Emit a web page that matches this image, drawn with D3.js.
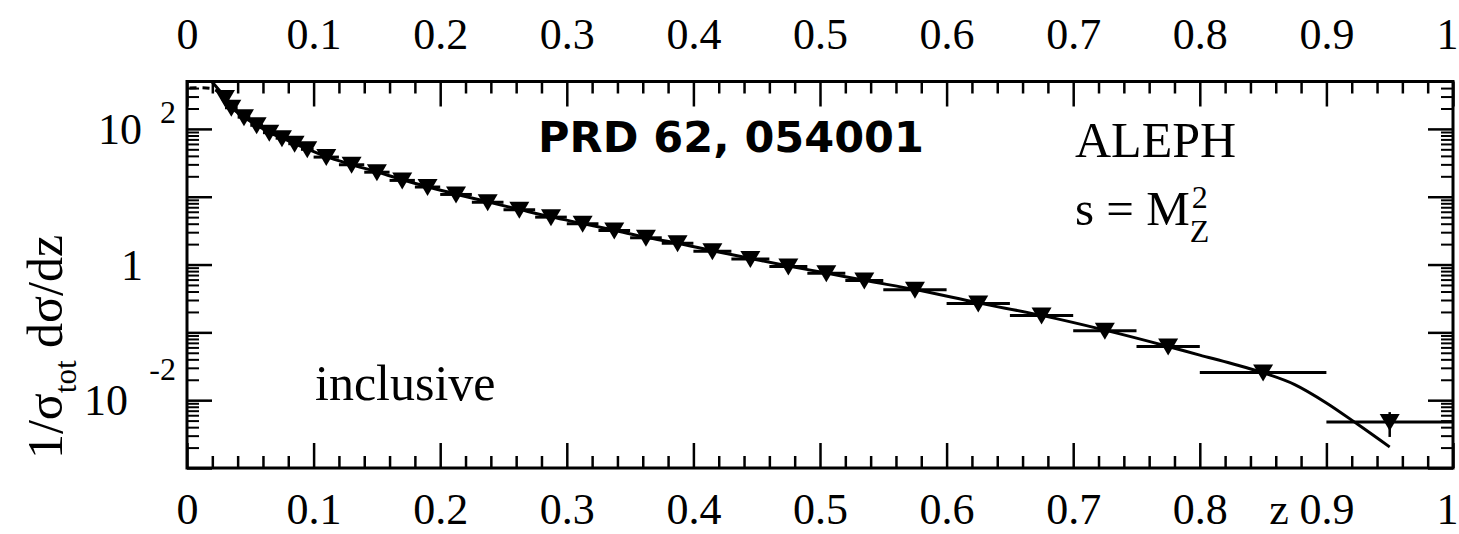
<!DOCTYPE html>
<html><head><meta charset="utf-8">
<script src="https://cdn.jsdelivr.net/npm/d3@7"></script>
<style>
html,body{margin:0;padding:0;background:#fff;}
svg{display:block;}
text{fill:#000;}
</style></head><body>
<svg id="chart" width="1459" height="534"></svg>
<script>
// ALEPH inclusive charged-hadron spectrum, s = MZ^2
const zCenters = [0.03, 0.035, 0.045, 0.055, 0.065, 0.075, 0.085, 0.095,
  0.11, 0.13, 0.15, 0.17, 0.19,
  0.2125, 0.2375, 0.2625, 0.2875, 0.3125, 0.3375, 0.3625, 0.3875,
  0.415, 0.445, 0.475, 0.505, 0.535,
  0.575, 0.625, 0.675, 0.725, 0.775, 0.85, 0.95];
const zHalfWidths = [0.0025, 0.005, 0.005, 0.005, 0.005, 0.005, 0.005, 0.005,
  0.01, 0.01, 0.01, 0.01, 0.01,
  0.0125, 0.0125, 0.0125, 0.0125, 0.0125, 0.0125, 0.0125, 0.0125,
  0.015, 0.015, 0.015, 0.015, 0.015,
  0.025, 0.025, 0.025, 0.025, 0.025, 0.05, 0.05];
const xsecValues = [285, 205, 149, 113, 88, 73, 60.5, 50,
  38.4, 29.6, 23.0, 17.4, 13.9,
  10.8, 8.3, 6.42, 5.0, 4.0, 3.18, 2.48, 2.06,
  1.57, 1.21, 0.935, 0.745, 0.58,
  0.424, 0.267, 0.177, 0.106, 0.062, 0.0256, 0.00477];
const xsecErrors = [6, 4, 3, 2.2, 1.7, 1.4, 1.1, 0.9,
  0.7, 0.5, 0.4, 0.3, 0.25,
  0.2, 0.15, 0.12, 0.09, 0.07, 0.06, 0.05, 0.04,
  0.03, 0.025, 0.02, 0.015, 0.012,
  0.008, 0.005, 0.004, 0.003, 0.002, 0.0012, 0.0019];

// NLO fit (solid)
const fitZ = [0.0195, 0.03, 0.035, 0.045, 0.055, 0.065, 0.075, 0.085, 0.095,
  0.11, 0.13, 0.15, 0.17, 0.19, 0.2125, 0.2375, 0.2625, 0.2875, 0.3125,
  0.3375, 0.3625, 0.3875, 0.415, 0.445, 0.475, 0.505, 0.535, 0.575, 0.625,
  0.675, 0.725, 0.775, 0.80, 0.825, 0.85, 0.875, 0.90, 0.925, 0.95];
const fitValues = [500, 290, 212, 150, 114, 89, 73.5, 60.5, 50.5,
  39, 29.8, 23.2, 17.8, 14.0, 10.9, 8.4, 6.5, 5.05, 4.02,
  3.2, 2.52, 2.06, 1.6, 1.23, 0.95, 0.75, 0.585, 0.428, 0.272,
  0.178, 0.108, 0.062, 0.0462, 0.0347, 0.0254, 0.0170, 0.00912, 0.00437, 0.00204];

// alternative fit at small z (dashed)
const altZ = [0.002, 0.01, 0.018, 0.024, 0.03, 0.04, 0.05];
const altValues = [400, 405, 398, 360, 292, 180, 130];

const xMajorTicks = [0, 0.1, 0.2, 0.3, 0.4, 0.5, 0.6, 0.7, 0.8, 0.9, 1];
const xTickLabels = ["0", "0.1", "0.2", "0.3", "0.4", "0.5", "0.6", "0.7", "0.8", "0.9", "1"];
const yLabelTicks = [100, 1, 0.01];
const yLabelBases = ["10", "1", "10"];
const yLabelExponents = ["2", "", "-2"];

const svg = d3.select("#chart");
const L = 187, R = 1453, T = 81.5, B = 468;
const x = d3.scaleLinear().domain([0, 1]).range([L, R]);
const y = d3.scaleLog().domain([1e-3, 500]).range([B, T]);

const serif = "'Liberation Serif','Times New Roman',Times,serif";

// tick sets
const xMinorTicks = d3.range(0, 1.0001, 0.02).filter(v => Math.abs(v * 10 - Math.round(v * 10)) > 1e-6);
const yMajorTicks = [1e-3, 1e-2, 1e-1, 1, 10, 100];
const yMinorMult = [2, 3, 4, 5, 6, 7, 8, 9];
const yMinorTicks = [];
yMajorTicks.forEach(d => yMinorMult.forEach(m => { const v = d * m; if (v <= 500) yMinorTicks.push(v); }));

function styleAxis(w) {
  return g => {
    g.select(".domain").remove();
    g.selectAll(".tick line").attr("stroke", "#000").attr("stroke-width", w);
  };
}

// the last label sits at the page edge, so it is pulled in slightly
function styleLabels(sel, yPos) {
  sel.selectAll(".tick text").attr("y", yPos).attr("dy", null)
    .attr("dx", d => d === 1 ? -6 : 0)
    .style("font-family", serif).style("font-size", "44px").attr("fill", "#000");
}

// bottom ticks (inward) + labels
svg.append("g").attr("transform", `translate(0,${B})`)
  .call(d3.axisBottom(x).tickValues(xMinorTicks).tickSize(-12).tickFormat(""))
  .call(styleAxis(2.5));
const bottomAx = svg.append("g").attr("transform", `translate(0,${B})`)
  .call(d3.axisBottom(x).tickValues(xMajorTicks).tickSize(-25)
    .tickFormat((d, i) => xTickLabels[i]))
  .call(styleAxis(2.5));
styleLabels(bottomAx, 56);

// top ticks (inward) + labels
svg.append("g").attr("transform", `translate(0,${T})`)
  .call(d3.axisTop(x).tickValues(xMinorTicks).tickSize(-12).tickFormat(""))
  .call(styleAxis(2.5));
const topAx = svg.append("g").attr("transform", `translate(0,${T})`)
  .call(d3.axisTop(x).tickValues(xMajorTicks).tickSize(-25)
    .tickFormat((d, i) => xTickLabels[i]))
  .call(styleAxis(2.5));
styleLabels(topAx, -33);

// left / right ticks (inward)
[[d3.axisLeft, L], [d3.axisRight, R]].forEach(([ax, pos]) => {
  svg.append("g").attr("transform", `translate(${pos},0)`)
    .call(ax(y).tickValues(yMinorTicks).tickSize(-12).tickFormat(""))
    .call(styleAxis(2));
  svg.append("g").attr("transform", `translate(${pos},0)`)
    .call(ax(y).tickValues(yMajorTicks).tickSize(-25).tickFormat(""))
    .call(styleAxis(2.5));
});

// frame
svg.append("rect").attr("x", L).attr("y", T).attr("width", R - L).attr("height", B - T)
  .attr("fill", "none").attr("stroke", "#000").attr("stroke-width", 3);

// y tick labels: 10^2, 1, 10^-2
yLabelTicks.forEach((v, i) => {
  const yy = y(v);
  const exp = yLabelExponents[i];
  const base = yLabelBases[i];
  const baseEnd = exp === "" ? 143 : (exp.length > 1 ? 128 : 142);
  svg.append("text").attr("x", baseEnd).attr("y", yy + 15)
    .attr("text-anchor", "end").style("font-family", serif).style("font-size", "44px")
    .text(base);
  if (exp) {
    svg.append("text").attr("x", 176).attr("y", yy + (exp.length > 1 ? -20 : -6))
      .attr("text-anchor", "end").style("font-family", serif).style("font-size", "32px")
      .text(exp);
  }
});

// axis titles
svg.append("text").attr("x", 1279).attr("y", 524).attr("text-anchor", "middle")
  .style("font-family", serif).style("font-size", "44px").text("z");

const yt = svg.append("text")
  .attr("transform", "translate(62,347) rotate(-90)")
  .attr("text-anchor", "middle")
  .style("font-family", serif).style("font-size", "50px");
yt.append("tspan").text("1/σ");
yt.append("tspan").attr("dy", 14).style("font-size", "31px").text("tot");
yt.append("tspan").attr("dy", -14).text(" dσ/dz");

// curves
const line = d3.line().x(d => x(d[0])).y(d => y(d[1])).curve(d3.curveMonotoneX);
svg.append("path").datum(altZ.map((z, i) => [z, altValues[i]]))
  .attr("d", line).attr("fill", "none").attr("stroke", "#000")
  .attr("stroke-width", 3).attr("stroke-dasharray", "7,6");
svg.append("path").datum(fitZ.map((z, i) => [z, fitValues[i]]))
  .attr("d", line).attr("fill", "none").attr("stroke", "#000").attr("stroke-width", 3);

// data points with error bars
const pts = zCenters.map((z, i) => ({ z, hw: zHalfWidths[i], v: xsecValues[i], e: xsecErrors[i] }));
const pg = svg.append("g");
pg.selectAll("line.h").data(pts).join("line").attr("class", "h")
  .attr("x1", d => x(d.z - d.hw)).attr("x2", d => Math.min(x(d.z + d.hw), R))
  .attr("y1", d => y(d.v)).attr("y2", d => y(d.v))
  .attr("stroke", "#000").attr("stroke-width", 3);
pg.selectAll("line.v").data(pts).join("line").attr("class", "v")
  .attr("x1", d => x(d.z)).attr("x2", d => x(d.z))
  .attr("y1", d => y(d.v + d.e)).attr("y2", d => y(d.v - d.e))
  .attr("stroke", "#000").attr("stroke-width", 2.5);
pg.selectAll("path.m").data(pts).join("path").attr("class", "m")
  .attr("transform", d => `translate(${x(d.z)},${y(d.v)})`)
  .attr("d", "M-10,-8L10,-8L0,9Z").attr("fill", "#000");

// annotations
svg.append("text").attr("x", 538).attr("y", 152)
  .style("font-family", "'DejaVu Sans',Verdana,sans-serif").style("font-weight", "bold")
  .style("font-size", "43px").text("PRD 62, 054001");
svg.append("text").attr("x", 1075).attr("y", 157)
  .style("font-family", serif).style("font-size", "50px").text("ALEPH");
const sm = svg.append("text").attr("x", 1075).attr("y", 225)
  .style("font-family", serif).style("font-size", "49px").text("s = M");
const smEnd = 1075 + sm.node().getComputedTextLength();
svg.append("text").attr("x", smEnd + 2).attr("y", 208)
  .style("font-family", serif).style("font-size", "32px").text("2");
svg.append("text").attr("x", smEnd).attr("y", 242)
  .style("font-family", serif).style("font-size", "32px").text("Z");
svg.append("text").attr("x", 315).attr("y", 400)
  .style("font-family", serif).style("font-size", "50px").text("inclusive");
</script>
</body></html>
